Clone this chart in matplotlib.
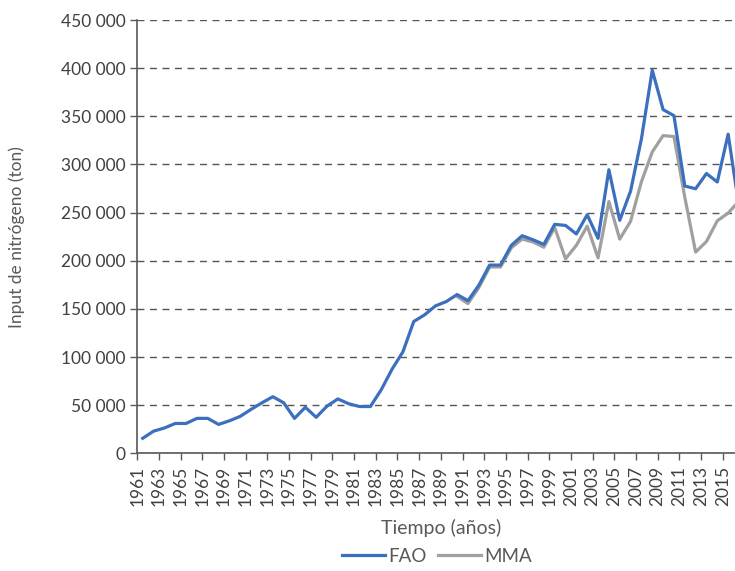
import matplotlib.pyplot as plt
from matplotlib.ticker import FuncFormatter

# Nitrogen input (ton)
years_fao = list(range(1961, 2017))
fao = [15600, 23000, 26300, 31000, 31000, 36300, 36300, 30000, 33800, 38400,
       45700, 52500, 58800, 52500, 36300, 47800, 37400, 49000, 56500, 51500,
       48600, 48600, 66000, 87400, 105400, 136900, 143800, 153100, 157600, 164900,
       158500, 174500, 195500, 195500, 216000, 226000, 221800, 217000, 237800, 236700,
       227800, 247800, 223300, 294500, 242000, 272300, 326600, 397900, 357000, 350700,
       277600, 274800, 290600, 281800, 331500, 256000]

years_mma = list(range(1990, 2017))
mma = [163000, 155500, 172000, 193500, 193500, 213500, 222500, 219500, 214000, 234500,
       202000, 216000, 236000, 203000, 261500, 222500, 241000, 282000, 313000, 330000,
       329000, 266000, 209000, 220000, 241500, 249500, 262000]

tick_years = list(range(1961, 2017, 2))

plt.rcParams['font.family'] = ['Lato', 'DejaVu Sans']

fig = plt.figure(figsize=(7.35, 5.71), dpi=100)
ax = fig.add_axes([0.1868, 0.2061, 0.826, 0.7588])

ax.plot(years_mma, mma, color="#a0a0a0", lw=2.3, label="MMA", zorder=2)
ax.plot(years_fao, fao, color="#3c6fbe", lw=2.3, label="FAO", zorder=3)

ax.set_xlim(1960.5, 2016.5)
ax.set_ylim(0, 450000)
ax.set_yticks(range(0, 450001, 50000))
ax.yaxis.set_major_formatter(FuncFormatter(lambda v, p: f"{int(v):,}".replace(",", " ")))
ax.set_xticks([y - 0.5 for y in tick_years])
ax.set_xticklabels([str(y) for y in tick_years], rotation=90)

ax.grid(axis="y", color="#555555", linestyle=(0, (5, 4)), lw=1.0)
ax.set_axisbelow(True)
for s in ["top", "right"]:
    ax.spines[s].set_visible(False)
for s in ["left", "bottom"]:
    ax.spines[s].set_color("#595959")
    ax.spines[s].set_linewidth(1.2)
ax.tick_params(axis="both", colors="#595959", labelcolor="#404040", labelsize=12.5,
               length=5, width=1)
ax.tick_params(axis="x", pad=4)

ax.set_ylabel("Input de nitrógeno (ton)", fontsize=12.5, color="#595959", labelpad=26)
ax.set_xlabel("Tiempo (años)", fontsize=14, color="#595959", labelpad=9)

handles, labels = ax.get_legend_handles_labels()
fig.legend(handles[::-1], labels[::-1], loc="center", bbox_to_anchor=(437 / 735, 0.026),
           ncol=2, frameon=False, fontsize=13.5, handlelength=2.3, columnspacing=0.6,
           handletextpad=0.15, labelcolor="#595959")

fig.savefig("out.png", dpi=100)
